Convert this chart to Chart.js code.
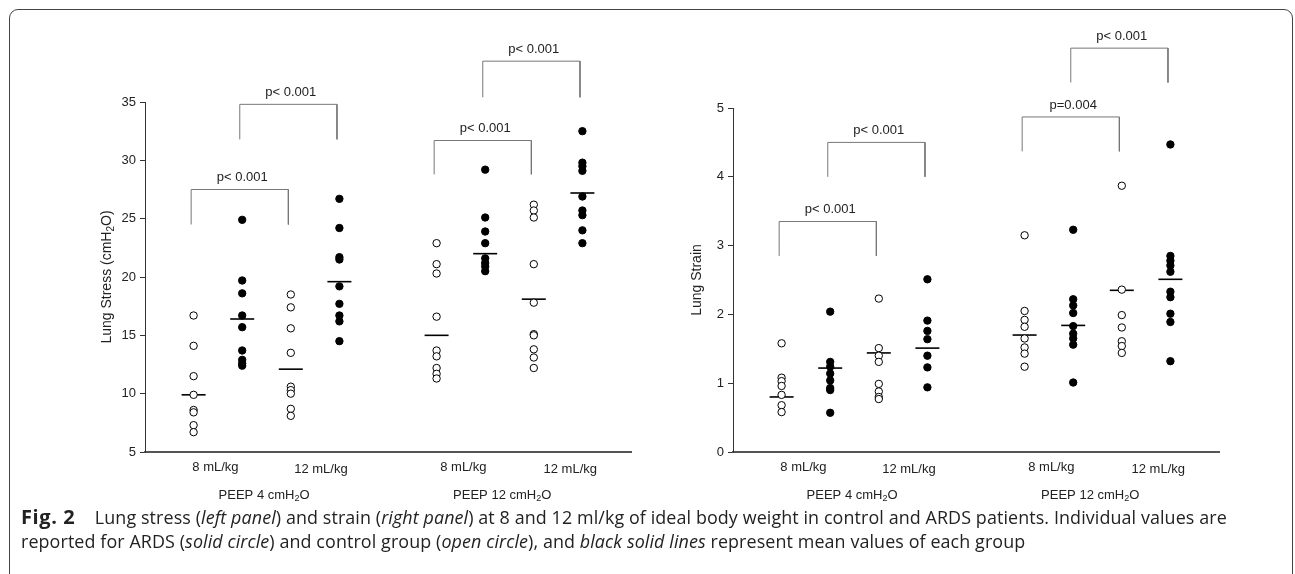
<!DOCTYPE html>
<html>
<head>
<meta charset="utf-8">
<script src="https://cdn.jsdelivr.net/npm/chart.js@4.4.0/dist/chart.umd.min.js"></script>
<style>
  html, body { margin:0; padding:0; background:#fff; width:1295px; height:574px; overflow:hidden; }
  #frame { position:absolute; left:9px; top:9px; width:1284px; height:590px; border:1.5px solid #444; border-radius:9px; box-sizing:border-box; }
  #c1 { position:absolute; left:0; top:0; }
  #c2 { position:absolute; left:660px; top:0; }
  #cap { position:absolute; left:21px; top:505px; font-family:'Open Sans'; font-size:17.9px; letter-spacing:0.1px; line-height:24px; color:#222; white-space:nowrap; }
  #cap b { font-weight:700; font-size:20px; letter-spacing:0.6px; margin-right:10px; }
</style>
</head>
<body>
<div id="frame"></div>
<canvas id="c1" width="660" height="574"></canvas>
<canvas id="c2" width="635" height="574"></canvas>
<div id="cap"><b>Fig. 2</b>&nbsp; Lung stress (<i>left panel</i>) and strain (<i>right panel</i>) at 8 and 12 ml/kg of ideal body weight in control and ARDS patients. Individual values are<br>reported for ARDS (<i>solid circle</i>) and control group (<i>open circle</i>), and <i>black solid lines</i> represent mean values of each group</div>
<script>
// column layout: control / ARDS at 8 and 12 mL/kg, for PEEP 4 and PEEP 12
const positions = [1, 2, 3, 4, 6, 7, 8, 9];
const solid = [false, true, false, true, false, true, false, true];
const doseLabels = ['8 mL/kg', '12 mL/kg', '8 mL/kg', '12 mL/kg'];
const doseX = [1.45, 3.62, 6.55, 8.75];
const peepLabels = ['PEEP 4 cmH2O', 'PEEP 12 cmH2O'];
const peepX = [2.45, 7.35];

// lung stress (cmH2O)
const stressCtrl8P4 = [16.7, 14.1, 11.5, 9.9, 8.6, 8.4, 7.3, 6.7];
const stressArds8P4 = [24.9, 19.7, 18.6, 16.7, 15.7, 13.7, 12.9, 12.6, 12.4];
const stressCtrl12P4 = [18.5, 17.4, 15.6, 13.5, 10.6, 10.3, 10.0, 8.7, 8.1];
const stressArds12P4 = [26.7, 24.2, 21.7, 21.5, 19.2, 17.7, 16.7, 16.2, 14.5];
const stressCtrl8P12 = [22.9, 21.1, 20.3, 16.6, 13.7, 13.2, 12.2, 11.7, 11.3];
const stressArds8P12 = [29.2, 25.1, 23.9, 22.9, 21.6, 21.2, 20.9, 20.5];
const stressCtrl12P12 = [26.2, 25.7, 25.1, 21.1, 17.8, 15.1, 15.0, 13.8, 13.1, 12.2];
const stressArds12P12 = [32.5, 29.8, 29.5, 29.1, 26.9, 25.7, 25.3, 24.0, 22.9];
const stressMeans = [9.9, 16.4, 12.1, 19.6, 15.0, 22.0, 18.1, 27.2];
const stressTicks = [5, 10, 15, 20, 25, 30, 35];

// lung strain
const strainCtrl8P4 = [1.58, 1.08, 1.03, 0.96, 0.83, 0.68, 0.58];
const strainArds8P4 = [2.04, 1.31, 1.24, 1.14, 1.04, 0.93, 0.90, 0.57];
const strainCtrl12P4 = [2.23, 1.51, 1.40, 1.31, 0.99, 0.88, 0.80, 0.77];
const strainArds12P4 = [2.51, 1.91, 1.76, 1.64, 1.40, 1.23, 0.94];
const strainCtrl8P12 = [3.15, 2.05, 1.92, 1.82, 1.65, 1.52, 1.43, 1.24];
const strainArds8P12 = [3.23, 2.22, 2.13, 2.02, 1.83, 1.72, 1.65, 1.56, 1.01];
const strainCtrl12P12 = [3.87, 2.36, 1.99, 1.81, 1.61, 1.54, 1.44];
const strainArds12P12 = [4.47, 2.85, 2.78, 2.71, 2.62, 2.33, 2.25, 2.01, 1.89, 1.32];
const strainMeans = [0.80, 1.22, 1.44, 1.51, 1.70, 1.84, 2.35, 2.51];
const strainTicks = [0, 1, 2, 3, 4, 5];

// significance brackets: from column, to column, leg bottom, top, text
const stressBrackets = [
  [1, 3, 24.5, 27.5, 'p< 0.001'],
  [2, 4, 31.8, 34.8, 'p< 0.001'],
  [6, 8, 28.8, 31.7, 'p< 0.001'],
  [7, 9, 35.4, 38.5, 'p< 0.001']
];
const strainBrackets = [
  [1, 3, 2.85, 3.35, 'p< 0.001'],
  [2, 4, 4.0, 4.5, 'p< 0.001'],
  [6, 8, 4.37, 4.87, 'p=0.004'],
  [7, 9, 5.37, 5.87, 'p< 0.001']
];

const FONT = "'Liberation Sans', Arial, sans-serif";
Chart.defaults.font.family = FONT;
Chart.defaults.font.size = 13;
Chart.defaults.color = '#222';

// text with the "2" of H2O set as subscript
function subText(ctx, str, x, y, size) {
  const sub = Math.round(size * 0.7);
  const i = str.indexOf('H2O');
  const pre = i < 0 ? str : str.slice(0, i + 1);
  const post = i < 0 ? '' : str.slice(i + 2);
  ctx.font = size + 'px ' + FONT;
  const w1 = ctx.measureText(pre).width;
  const w3 = ctx.measureText(post).width;
  ctx.font = sub + 'px ' + FONT;
  const w2 = i < 0 ? 0 : ctx.measureText('2').width;
  const sx = x - (w1 + w2 + w3) / 2;
  ctx.textAlign = 'left';
  ctx.textBaseline = 'middle';
  ctx.font = size + 'px ' + FONT;
  ctx.fillText(pre, sx, y);
  if (i >= 0) {
    ctx.font = sub + 'px ' + FONT;
    ctx.fillText('2', sx + w1, y + 4);
    ctx.font = size + 'px ' + FONT;
    ctx.fillText(post, sx + w1 + w2, y);
  }
}

const labelsPlugin = {
  id: 'labels',
  afterDraw(chart, args, opts) {
    const ctx = chart.ctx;
    const xs = chart.scales.x, ys = chart.scales.y;
    const base = chart.chartArea.bottom;
    ctx.save();
    ctx.fillStyle = '#222';
    ctx.font = '13px ' + FONT;
    ctx.textAlign = 'center';
    ctx.textBaseline = 'middle';
    opts.brackets.forEach(b => {
      const cx = (xs.getPixelForValue(b[0]) + xs.getPixelForValue(b[1])) / 2;
      ctx.fillText(b[4], cx, ys.getPixelForValue(b[3]) - 12);
    });
    doseLabels.forEach((t, i) => {
      ctx.fillText(t, xs.getPixelForValue(doseX[i]), base + 15 + (i % 2) * 2);
    });
    peepLabels.forEach((t, i) => subText(ctx, t, xs.getPixelForValue(peepX[i]), base + 43, 13));
    ctx.translate(opts.titleX, (chart.chartArea.top + chart.chartArea.bottom) / 2);
    ctx.rotate(-Math.PI / 2);
    subText(ctx, opts.title, 0, 0, 14);
    ctx.restore();
  }
};

function makeChart(id, columns, means, brackets, ticks, title, titleX, axisW, padRight, padTop) {
  const datasets = [];
  columns.forEach((vals, i) => {
    datasets.push({
      data: vals.map(v => ({ x: positions[i], y: v })),
      pointRadius: 3.7,
      pointBorderWidth: 1,
      pointBorderColor: '#000',
      pointBackgroundColor: solid[i] ? '#000' : '#fff'
    });
  });
  datasets.push({
    data: means.map((v, i) => ({ x: positions[i], y: v })),
    pointStyle: 'line',
    pointRadius: 12,
    pointBorderWidth: 1.6,
    pointBorderColor: '#000'
  });
  brackets.forEach(b => {
    datasets.push({
      data: [{ x: b[0] - 0.05, y: b[2] }, { x: b[0] - 0.05, y: b[3] }, { x: b[1] - 0.05, y: b[3] }, { x: b[1] - 0.05, y: b[2] }],
      showLine: true,
      borderColor: '#777',
      borderWidth: 1,
      pointRadius: 0,
      clip: false
    });
  });
  return new Chart(document.getElementById(id), {
    type: 'scatter',
    data: { datasets: datasets },
    options: {
      responsive: false,
      animation: false,
      layout: { padding: { left: 0, right: padRight, top: padTop, bottom: 122 } },
      plugins: {
        legend: { display: false },
        tooltip: { enabled: false },
        labels: { brackets: brackets, title: title, titleX: titleX }
      },
      scales: {
        x: {
          type: 'linear', min: 0, max: 10,
          ticks: { display: false },
          grid: { drawOnChartArea: false, drawTicks: false },
          border: { color: '#555', width: 2 },
          afterFit: s => { s.height = 0; }
        },
        y: {
          type: 'linear', min: ticks[0], max: ticks[ticks.length - 1],
          afterBuildTicks: s => { s.ticks = ticks.map(v => ({ value: v })); },
          ticks: { padding: 4, color: '#222' },
          grid: { drawOnChartArea: false, tickLength: 5, color: '#333' },
          border: { color: '#333', width: 1 },
          afterFit: s => { s.width = axisW; }
        }
      }
    },
    plugins: [labelsPlugin]
  });
}

makeChart('c1',
  [stressCtrl8P4, stressArds8P4, stressCtrl12P4, stressArds12P4, stressCtrl8P12, stressArds8P12, stressCtrl12P12, stressArds12P12],
  stressMeans, stressBrackets, stressTicks, 'Lung Stress (cmH2O)', 107, 145, 29, 102);
makeChart('c2',
  [strainCtrl8P4, strainArds8P4, strainCtrl12P4, strainArds12P4, strainCtrl8P12, strainArds8P12, strainCtrl12P12, strainArds12P12],
  strainMeans, strainBrackets, strainTicks, 'Lung Strain', 37, 73, 76, 108);
</script>
</body>
</html>
